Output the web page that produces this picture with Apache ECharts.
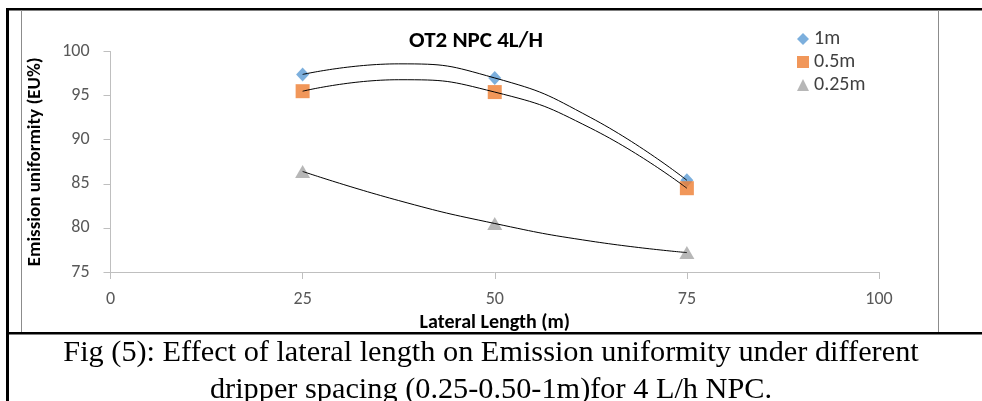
<!DOCTYPE html>
<html>
<head>
<meta charset="utf-8">
<script src="https://cdn.jsdelivr.net/npm/echarts@6/dist/echarts.min.js"></script>
<style>
html,body{margin:0;padding:0;background:#fff;}
#c{width:982px;height:401px;}
</style>
</head>
<body>
<div id="c"></div>
<script>
// ---- data ----
var lateralLength = [25, 50, 75];
var eu1m   = [97.4, 97.0, 85.4];
var eu05m  = [95.5, 95.4, 84.5];
var eu025m = [86.4, 80.5, 77.2];
// trendline (poly order 2) readings taken off the drawn curves
var trendX     = [25, 37.5, 50, 62.5, 75];
var trend1m    = [97.4, 98.6, 97.0, 92.5, 85.4];
var trend05m   = [95.5, 96.8, 95.4, 91.3, 84.5];
var trend025m  = [86.4, 83.1, 80.5, 78.5, 77.2];
var seriesNames = ['1m', '0.5m', '0.25m'];
var xTicks = [0, 25, 50, 75, 100];
var yTicks = [75, 80, 85, 90, 95, 100];
var chartTitle = 'OT2 NPC 4L/H';
var xName = 'Lateral Length (m)';
var yName = 'Emission uniformity (EU%)';
var caption1 = 'Fig (5): Effect of lateral length on Emission uniformity under different';
var caption2 = 'dripper spacing (0.25-0.50-1m)for 4 L/h NPC.';

function pairs(xs, ys){ return xs.map(function(x,i){ return [x, ys[i]]; }); }

var FONT = "Carlito, 'Liberation Sans', Arial, sans-serif";
var chart = echarts.init(document.getElementById('c'), null, {renderer:'canvas'});

var trendStyle = {color:'#000', width:1};
var option = {
  animation:false,
  backgroundColor:'#fff',
  title:{
    text:chartTitle, left:471, top:25, textAlign:'center',
    textStyle:{fontFamily:FONT, fontSize:23, fontWeight:'bold', color:'#000'}
  },
  legend:{
    data:[{name:seriesNames[0], icon:'diamond'},{name:seriesNames[1], icon:'rect'},{name:seriesNames[2], icon:'triangle'}],
    orient:'vertical', left:792, top:24, itemWidth:12, itemHeight:12, itemGap:3,
    textStyle:{fontFamily:FONT, fontSize:20, color:'#404040'}
  },
  grid:{left:110.5, right:103, top:51.5, bottom:129},
  xAxis:{
    type:'value', min:xTicks[0], max:xTicks[xTicks.length-1], interval:25,
    name:xName, nameLocation:'middle', nameGap:36,
    nameTextStyle:{fontFamily:FONT, fontSize:20, fontWeight:'bold', color:'#000'},
    axisLine:{show:true, lineStyle:{color:'#bfbfbf', width:1}},
    axisTick:{show:true, length:7, lineStyle:{color:'#bfbfbf'}},
    axisLabel:{fontFamily:FONT, fontSize:18, color:'#595959', margin:18},
    splitLine:{show:false}
  },
  yAxis:{
    type:'value', min:yTicks[0], max:yTicks[yTicks.length-1], interval:5,
    name:yName, nameLocation:'middle', nameGap:66, nameRotate:90,
    nameTextStyle:{fontFamily:FONT, fontSize:19, fontWeight:'bold', color:'#000'},
    axisLine:{show:true, lineStyle:{color:'#bfbfbf', width:1}},
    axisTick:{show:true, length:7, lineStyle:{color:'#bfbfbf'}},
    axisLabel:{fontFamily:FONT, fontSize:18, color:'#595959', margin:21},
    splitLine:{show:false}
  },
  series:[
    {name:seriesNames[0], type:'scatter', symbol:'diamond', symbolSize:[13,14], itemStyle:{color:'#5B9BD5'}, data:pairs(lateralLength, eu1m), z:2},
    {name:seriesNames[1], type:'scatter', symbol:'rect', symbolSize:14, itemStyle:{color:'#ED7D31'}, data:pairs(lateralLength, eu05m), z:2},
    {name:seriesNames[2], type:'scatter', symbol:'triangle', symbolSize:[15,13], itemStyle:{color:'#A5A5A5'}, data:pairs(lateralLength, eu025m), z:2},
    {name:'trend1m', type:'line', smooth:0.5, showSymbol:false, lineStyle:trendStyle, data:pairs(trendX, trend1m), z:3, silent:true},
    {name:'trend05m', type:'line', smooth:0.5, showSymbol:false, lineStyle:trendStyle, data:pairs(trendX, trend05m), z:3, silent:true},
    {name:'trend025m', type:'line', smooth:0.5, showSymbol:false, lineStyle:trendStyle, data:pairs(trendX, trend025m), z:3, silent:true}
  ],
  graphic:[
    {type:'rect', shape:{x:6, y:8, width:976, height:2.5}, style:{fill:'#000'}, silent:true},
    {type:'rect', shape:{x:6, y:8, width:3, height:393}, style:{fill:'#000'}, silent:true},
    {type:'rect', shape:{x:6, y:332, width:976, height:2.5}, style:{fill:'#000'}, silent:true},
    {type:'line', shape:{x1:21.5, y1:10, x2:21.5, y2:332}, style:{stroke:'#8c8c8c', lineWidth:1}, silent:true},
    {type:'line', shape:{x1:938.5, y1:10, x2:938.5, y2:332}, style:{stroke:'#8c8c8c', lineWidth:1}, silent:true},
    {type:'text', x:491, y:353, style:{text:caption1, fill:'#000', font:"30.3px 'Liberation Serif', 'Times New Roman', serif", align:'center', verticalAlign:'middle'}, silent:true},
    {type:'text', x:491, y:390, style:{text:caption2, fill:'#000', font:"30.3px 'Liberation Serif', 'Times New Roman', serif", align:'center', verticalAlign:'middle'}, silent:true}
  ]
};
chart.setOption(option);
</script>
</body>
</html>
